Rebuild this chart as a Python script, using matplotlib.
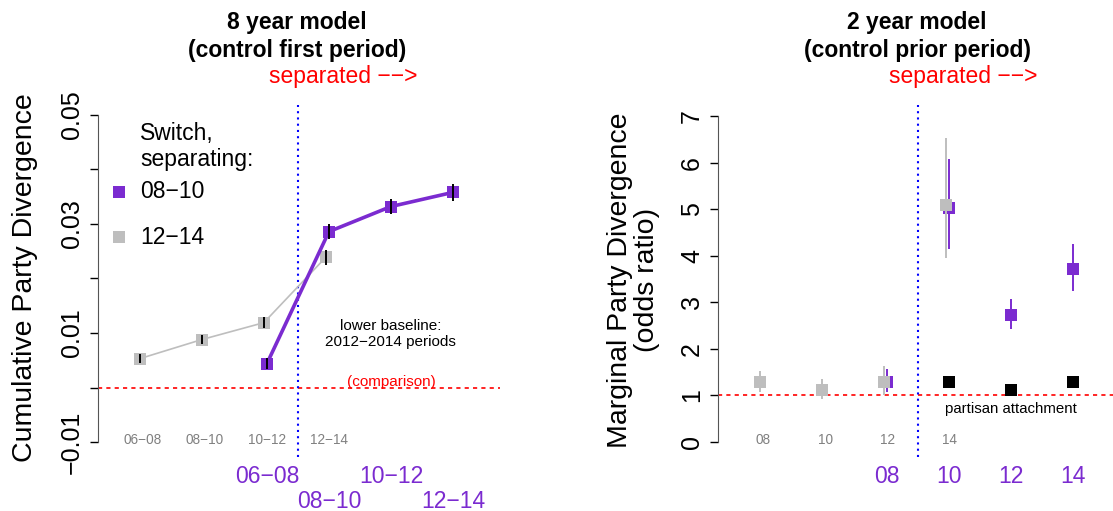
import matplotlib
matplotlib.use("Agg")
import matplotlib.pyplot as plt
import numpy as np

plt.rcParams['font.family'] = ['Liberation Sans', 'DejaVu Sans']

PURPLE = "#7b2bd0"
GRAY = "#bebebe"
GRAY_TXT = "#808080"

# left panel: 8 year model, cumulative divergence
periods = ["06\u221208", "08\u221210", "10\u221212", "12\u221214"]
cum_1214 = [0.0053, 0.0088, 0.0119, 0.0239]
cum_1214_err = [0.0008, 0.0009, 0.0010, 0.0014]
cum_0810 = [0.0044, 0.0286, 0.0332, 0.0358]
cum_0810_err = [0.0010, 0.0014, 0.0014, 0.0015]

# right panel: 2 year model, odds ratios
years = ["08", "10", "12", "14"]
or_1214 = [1.28, 1.11, 1.28, 5.09]
or_1214_lo = [1.07, 0.92, 1.00, 3.96]
or_1214_hi = [1.52, 1.35, 1.63, 6.53]
or_0810 = [1.28, 5.03, 2.72, 3.72]
or_0810_lo = [1.07, 4.15, 2.42, 3.25]
or_0810_hi = [1.56, 6.08, 3.08, 4.26]
or_attach = [1.28, 1.11, 1.28]   # partisan attachment, periods 10, 12, 14

W, H = 1113, 511
fig = plt.figure(figsize=(W / 100, H / 100), dpi=100)
axL = fig.add_axes([98 / W, 54 / H, 402 / W, 352 / H])
axR = fig.add_axes([718 / W, 54 / H, 395 / W, 352 / H])

x_gray = np.arange(1, 5) - 0.05
x_purp = np.arange(3, 7)


def style_axis(ax, ticks, labels, lo, hi):
    for s in ("top", "right", "bottom"):
        ax.spines[s].set_visible(False)
    ax.spines["left"].set_bounds(lo, hi)
    ax.spines["left"].set_color("#555555")
    ax.set_xticks([])
    ax.set_yticks(ticks, labels)
    ax.tick_params(axis="y", length=6, width=1, pad=4, labelsize=18, labelrotation=90)
    for t in ax.get_yticklabels():
        t.set_va("center")


def period_labels(ax, gray_labels, purp_labels, purp_y):
    tr = ax.get_xaxis_transform()
    for x, lab in zip(np.arange(1, 5), gray_labels):
        ax.text(x, 0.048, lab, transform=tr, ha="center", va="center",
                fontsize=9.8, color=GRAY_TXT, clip_on=False)
    for x, lab, y in zip(x_purp, purp_labels, purp_y):
        ax.text(x, y, lab, transform=tr, ha="center", va="center",
                fontsize=16.5, color=PURPLE, clip_on=False)


# ---- left panel
ax = axL
ax.set_xlim(0.274, 6.76)
ax.set_ylim(-0.01275, 0.05183)
ax.axhline(0, color="red", ls=(0, (2.5, 2.5)), lw=1.2, zorder=1)
ax.axvline(3.5, color="blue", ls=(0, (1, 2)), lw=1.5, zorder=1)

g = np.array(cum_1214)
ge = np.array(cum_1214_err)
p = np.array(cum_0810)
pe = np.array(cum_0810_err)
ax.plot(x_gray, g, color=GRAY, lw=1.2, zorder=2)
ax.plot(x_gray, g, "s", color=GRAY, ms=8.5, mew=0, zorder=3)
ax.vlines(x_gray, g - ge, g + ge, color="black", lw=1.4, zorder=4)
ax.plot(x_purp, p, color=PURPLE, lw=2.6, zorder=5)
ax.plot(x_purp, p, "s", color=PURPLE, ms=8.5, mew=0, zorder=6)
ax.vlines(x_purp, p - pe, p + pe, color="black", lw=1.4, zorder=7)

yt = np.round(np.arange(-0.01, 0.0501, 0.01), 2)
ylab = ["\u22120.01", "", "0.01", "", "0.03", "", "0.05"]
style_axis(ax, yt, ylab, -0.01, 0.05)
period_labels(ax, periods, periods, [-0.054, -0.125, -0.054, -0.125])

ax.text(5, 0.0098, "lower baseline:\n2012\u22122014 periods", ha="center", va="center",
        fontsize=11, linespacing=1.25)
ax.text(5, 0.0011, "(comparison)", ha="center", va="center", fontsize=11, color="red")

# legend drawn as text + markers
ax.text(0.1045, 0.882, "Switch,\nseparating:", transform=ax.transAxes, ha="left",
        va="center", fontsize=16.5, linespacing=1.12)
for yy, lab, col in [(0.753, "08\u221210", PURPLE), (0.625, "12\u221214", GRAY)]:
    ax.plot([0.052], [yy], "s", color=col, ms=8, mew=0, transform=ax.transAxes, clip_on=False)
    ax.text(0.1045, yy, lab, transform=ax.transAxes, ha="left", va="center", fontsize=16.5)

# ---- right panel
ax = axR
ax.set_xlim(0.274, 6.645)
ax.set_ylim(-0.322, 7.236)
ax.axhline(1, color="red", ls=(0, (2.5, 2.5)), lw=1.2, zorder=1)
ax.axvline(3.5, color="blue", ls=(0, (1, 2)), lw=1.5, zorder=1)

ax.vlines(x_purp, or_0810_lo, or_0810_hi, color=PURPLE, lw=1.4, zorder=2)
ax.plot(x_purp, or_0810, "s", color=PURPLE, ms=8.5, mew=0, zorder=3)
ax.vlines(x_gray, or_1214_lo, or_1214_hi, color=GRAY, lw=1.4, zorder=4)
ax.plot(x_gray, or_1214, "s", color=GRAY, ms=8.5, mew=0, zorder=5)
ax.plot(x_purp[1:], or_attach, "s", color="black", ms=8, mew=0, zorder=6)

style_axis(ax, np.arange(0, 8), [str(i) for i in range(8)], 0, 7)
period_labels(ax, years, years, [-0.054] * 4)
ax.text(5, 0.71, "partisan attachment", ha="center", va="center", fontsize=10.8)

# ---- titles and axis labels
def ftext(x, y, s, **kw):
    fig.text(x / W, 1 - y / H, s, ha="center", va="center", **kw)

ftext(297, 22, "8 year model", fontsize=16.5, fontweight="bold")
ftext(297, 50, "(control first period)", fontsize=16.5, fontweight="bold")
ftext(343, 76, "separated \u2212\u2212>", fontsize=16.5, color="red")
ftext(917, 22, "2 year model", fontsize=16.5, fontweight="bold")
ftext(917, 50, "(control prior period)", fontsize=16.5, fontweight="bold")
ftext(963, 76, "separated \u2212\u2212>", fontsize=16.5, color="red")

ftext(25, 278, "Cumulative Party Divergence", fontsize=20.5, rotation=90)
ftext(633.5, 280, "Marginal Party Divergence\n(odds ratio)", fontsize=20.5, rotation=90,
      linespacing=1.05, multialignment="center")

fig.savefig("out.png", dpi=100)
